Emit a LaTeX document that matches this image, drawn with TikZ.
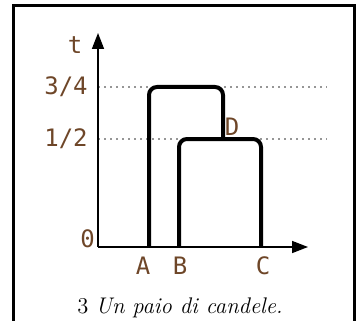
\documentclass[tikz,border=0pt]{standalone}
\usepackage{fontspec}
\newfontfamily\lblfont{DejaVu Sans Mono}
\usetikzlibrary{arrows.meta}
\definecolor{lblcol}{RGB}{110,70,40}
\definecolor{dotcol}{RGB}{150,150,150}
\tikzset{
  lbl/.style={font=\lblfont\fontsize{12}{14}\selectfont, text=lblcol, inner sep=0pt},
  axis/.style={line width=0.8pt, -{Triangle[length=8pt,width=6pt]}},
  candle/.style={line width=2pt, rounded corners=4pt, line cap=butt},
  guide/.style={dotcol, line width=0.8pt, dash pattern=on 1.2pt off 1.8pt},
  frame/.style={line width=1.4pt}
}
\begin{document}
\begin{tikzpicture}[x=0.5pt,y=-0.5pt]
\useasboundingbox (0,0) rectangle (357,320);
% frame
\draw[frame] (13.5,321) -- (13.5,5.5) -- (354.5,5.5) -- (354.5,321);
% coordinates
\coordinate (O) at (98,247);
\coordinate (ytip) at (98,33);
\coordinate (xtip) at (308,247);
\coordinate (g34s) at (98,87);
\coordinate (g34e) at (327,87);
\coordinate (g12s) at (98,139);
\coordinate (g12e) at (327,139);
\coordinate (Ab) at (149,247);
\coordinate (At) at (149,87);
\coordinate (Dt) at (223,87);
\coordinate (Dj) at (223,139);
\coordinate (Bb) at (179,247);
\coordinate (Bt) at (179,139);
\coordinate (Ct) at (261,139);
\coordinate (Cb) at (261,247);
% guides
\draw[guide] (g34s) -- (g34e);
\draw[guide] (g12s) -- (g12e);
% axes
\draw[axis] (O) -- (ytip);
\draw[axis] (O) -- (xtip);
% candles
\draw[candle] (Ab) -- (At) -- (Dt) -- (Dj);
\draw[candle] (Bb) -- (Bt) -- (Ct) -- (Cb);
% labels
\node[lbl] (t) at (75,45) {t};
\node[lbl] (l34) at (66,87) {3/4};
\node[lbl] (l12) at (66,139) {1/2};
\node[lbl] (l0) at (87.5,239) {0};
\node[lbl] (lA) at (143,266) {A};
\node[lbl] (lB) at (180,266) {B};
\node[lbl] (lC) at (263,266) {C};
\node[lbl] (lD) at (232,127) {D};
% caption
\node[inner sep=0pt, font=\fontsize{11.3}{13}\selectfont] (cap) at (180,308) {3 \textit{Un paio di candele.}};
\end{tikzpicture}
\end{document}
